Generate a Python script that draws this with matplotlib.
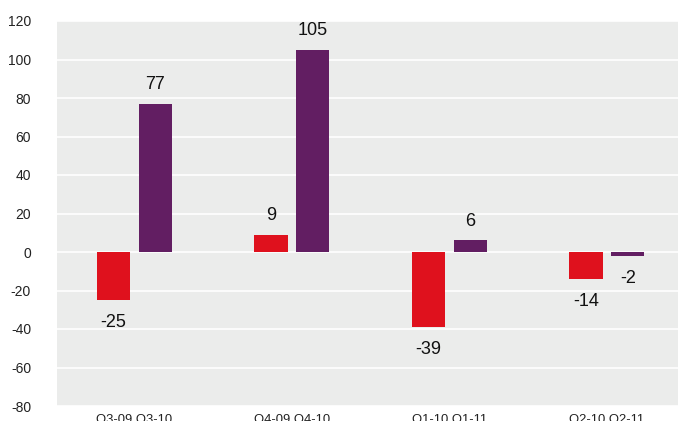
import matplotlib
matplotlib.use("Agg")
import matplotlib.pyplot as plt
import numpy as np

categories = ["Q3-09 Q3-10", "Q4-09 Q4-10", "Q1-10 Q1-11", "Q2-10 Q2-11"]
series_prev = [-25, 9, -39, -14]
series_curr = [77, 105, 6, -2]
yticks = [-80, -60, -40, -20, 0, 20, 40, 60, 80, 100, 120]

plt.rcParams['font.family'] = ['Liberation Sans', 'DejaVu Sans']

fig = plt.figure(figsize=(6.78, 4.21), dpi=100)
ax = fig.add_axes([57/678, 15/421, 621/678, 385/421])
ax.set_facecolor('#EBECEB')

x = np.arange(len(categories))
off = 0.133
w = 0.21
red = '#DF111D'
purple = '#621E62'
b1 = ax.bar(x - off, series_prev, w, color=red, zorder=3)
b2 = ax.bar(x + off, series_curr, w, color=purple, zorder=3)

for bars, vals in ((b1, series_prev), (b2, series_curr)):
    for rect, v in zip(bars, vals):
        xc = rect.get_x() + rect.get_width() / 2
        dy = 13.8 if v >= 0 else -16.3
        ax.annotate(str(v), (xc, v), xytext=(0, dy), textcoords='offset points',
                    ha='center', va='center', fontsize=13, color='#111111', zorder=4)

ax.set_ylim(-80, 120)
ax.set_xlim(-0.492, 3.451)
ax.set_yticks(yticks)
ax.set_yticklabels([str(t) for t in yticks])
ax.set_xticks(x)
ax.set_xticklabels(categories)
ax.tick_params(axis='y', length=0, pad=18.7, labelsize=10, labelcolor='#222222')
ax.tick_params(axis='x', length=0, pad=6, labelsize=9.4, labelcolor='#222222')
for lbl in ax.get_yticklabels():
    lbl.set_horizontalalignment('right')
ax.grid(axis='y', color='white', linewidth=1.2, zorder=1)
ax.set_axisbelow(True)
for s in ax.spines.values():
    s.set_visible(False)

fig.savefig('out.png', dpi=100)
